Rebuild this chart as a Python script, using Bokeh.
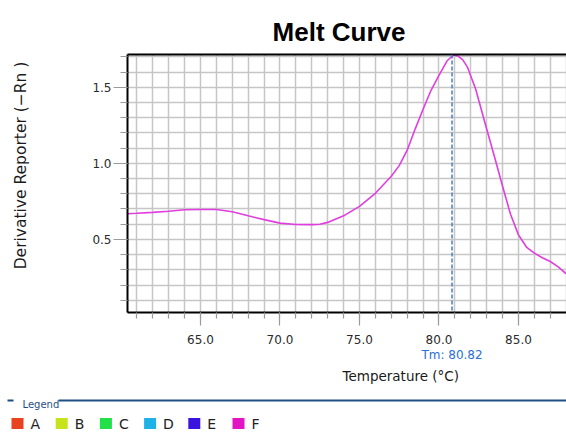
import math
from bokeh.plotting import figure
from bokeh.layouts import row
from bokeh.models import (Range1d, SingleIntervalTicker, FixedTicker, LinearAxis, Span,
                          PrintfTickFormatter, ColumnDataSource, Grid, Title)
from bokeh.core.properties import value
from bokeh.embed import file_html
from bokeh.resources import INLINE

# ---------------- data ----------------
temperature = [60.4, 61.0, 62.0, 63.0, 64.0, 65.0, 66.0, 67.0, 68.0, 69.0, 70.0,
               71.0, 72.0, 72.5, 73.0, 74.0, 75.0, 76.0, 77.0, 77.5, 78.0, 78.5,
               79.0, 79.5, 80.0, 80.5, 80.9, 81.2, 81.5, 81.8, 82.3, 83.0, 83.5, 84.0,
               84.5, 85.0, 85.5, 86.0, 86.5, 87.0, 87.5, 88.0]
derivative = [0.669, 0.672, 0.678, 0.685, 0.695, 0.697, 0.697, 0.682, 0.655, 0.630, 0.607,
              0.598, 0.597, 0.600, 0.612, 0.655, 0.717, 0.803, 0.915, 0.985, 1.086, 1.225,
              1.355, 1.48, 1.578, 1.672, 1.712, 1.705, 1.680, 1.630, 1.49, 1.225, 1.04, 0.85,
              0.665, 0.530, 0.450, 0.410, 0.380, 0.355, 0.320, 0.274]
tm_value = 80.82

x_tick_interval = 5
y_tick_interval = 0.5

legend_names = ["A", "B", "C", "D", "E", "F"]
legend_colors = ["#e8431e", "#c6e31c", "#22e048", "#1fb2e6", "#3a14de", "#e214c4"]
curve_color = "#e03ee0"

FONT = "DejaVu Sans"

# ---------------- title strip ----------------
tf = figure(width=566, height=46, x_range=Range1d(0, 566), y_range=Range1d(0, 46),
            output_backend="svg", toolbar_location=None, min_border=0,
            x_axis_location=None, y_axis_location=None)
tf.grid.visible = False
tf.outline_line_color = None
tf.text(x=[338.5], y=[14.3], text=["Melt Curve"], text_font=value("Liberation Sans"),
        text_font_style="bold", text_font_size="26px", text_color="black",
        text_align="center", text_baseline="alphabetic")

# ---------------- y-label strip ----------------
yl = figure(frame_width=40, frame_height=258, x_range=Range1d(0, 40), y_range=Range1d(0, 258),
            output_backend="svg", toolbar_location=None, x_axis_location=None,
            y_axis_location=None)
yl.min_border_left = 0
yl.min_border_right = 0
yl.min_border_top = 8
yl.min_border_bottom = 76
yl.grid.visible = False
yl.outline_line_color = None
yl.text(x=[20], y=[147], text=["Derivative Reporter (\u2212Rn )"], angle=math.pi / 2,
        text_font=value(FONT), text_font_size="15.5px", text_color="#1a1a1a",
        text_align="center", text_baseline="middle")

# ---------------- main plot ----------------
p = figure(frame_width=439, frame_height=258,
           x_range=Range1d(60.41, 88.02), y_range=Range1d(0.02, 1.715),
           output_backend="svg", toolbar_location=None, x_axis_location=None,
           y_axis_location=None)
p.min_border_left = 87
p.min_border_top = 8
p.min_border_right = 0
p.min_border_bottom = 76
p.outline_line_color = None

xaxis = LinearAxis(ticker=SingleIntervalTicker(interval=x_tick_interval, num_minor_ticks=5),
                   formatter=PrintfTickFormatter(format="%.1f"))
yaxis = LinearAxis(ticker=SingleIntervalTicker(interval=y_tick_interval, num_minor_ticks=5),
                   formatter=PrintfTickFormatter(format="%.1f"))
for ax in (xaxis, yaxis):
    ax.axis_line_color = "black"
    ax.axis_line_width = 2
    ax.major_tick_line_color = "#9a9a9a"
    ax.minor_tick_line_color = "#9a9a9a"
    ax.major_tick_line_width = 1.2
    ax.minor_tick_line_width = 1.2
    ax.major_tick_in = 0
    ax.minor_tick_in = 0
    ax.major_label_text_font = FONT
    ax.major_label_text_font_size = "12px"
    ax.major_label_text_color = "#2a2a2a"
xaxis.major_tick_out = 13
xaxis.minor_tick_out = 6
xaxis.major_label_standoff = 9
yaxis.major_tick_out = 14
yaxis.minor_tick_out = 7
yaxis.major_label_standoff = 2

top_axis = LinearAxis(ticker=FixedTicker(ticks=[]), axis_line_color="black", axis_line_width=2,
                      major_tick_line_color=None, minor_tick_line_color=None)

tm_axis = LinearAxis(ticker=FixedTicker(ticks=[tm_value], minor_ticks=[]),
                     formatter=PrintfTickFormatter(format="Tm: %.2f"),
                     axis_line_color=None, major_tick_line_color=None,
                     minor_tick_line_color=None, major_tick_out=0, major_label_standoff=1,
                     major_label_text_font=FONT, major_label_text_font_size="12px",
                     major_label_text_color="#2a6fd6")

p.add_layout(xaxis, "below")
p.add_layout(tm_axis, "below")
p.add_layout(yaxis, "left")
p.add_layout(top_axis, "above")

p.add_layout(Title(text="Temperature (\u00b0C)", align="left", offset=215, standoff=2,
                   text_font=FONT, text_font_size="13.5px", text_font_style="normal",
                   text_color="#1a1a1a"), "below")

p.add_layout(Grid(dimension=0, ticker=SingleIntervalTicker(interval=1),
                  grid_line_color="#c6c6c6", grid_line_width=1.5))
p.add_layout(Grid(dimension=1, ticker=SingleIntervalTicker(interval=0.1),
                  grid_line_color="#c6c6c6", grid_line_width=1.5))

src = ColumnDataSource(dict(x=temperature, y=derivative))
p.line("x", "y", source=src, line_color=curve_color, line_width=1.6)

p.add_layout(Span(location=tm_value, dimension="height", line_color="#4a7cc6",
                  line_width=1.5, line_dash="4 2"))

# ---------------- legend strip ----------------
lg = figure(width=566, height=47, x_range=Range1d(0, 566), y_range=Range1d(0, 47),
            output_backend="svg", toolbar_location=None, min_border=0,
            x_axis_location=None, y_axis_location=None)
lg.grid.visible = False
lg.outline_line_color = None

lg.segment(x0=[7, 58], y0=[35, 35], x1=[13, 566], y1=[35, 35],
           line_color="#1f4f86", line_width=2)
lg.text(x=[22], y=[31], text=["Legend"], text_font=value(FONT),
        text_font_size="10px", text_color="#1f4f86", text_baseline="alphabetic")

pitch = 44.2
sq_x = [17 + i * pitch for i in range(len(legend_names))]
lg.rect(x=sq_x, y=[12] * len(legend_names), width=12, height=11,
        fill_color=legend_colors, line_color=None)
lg.text(x=[x + 13 for x in sq_x], y=[12] * len(legend_names), text=legend_names,
        text_font=value(FONT), text_font_size="14px", text_color="#222222",
        text_baseline="middle")

open("out.html", "w").write(file_html([tf, row(yl, p, spacing=0), lg], INLINE))
